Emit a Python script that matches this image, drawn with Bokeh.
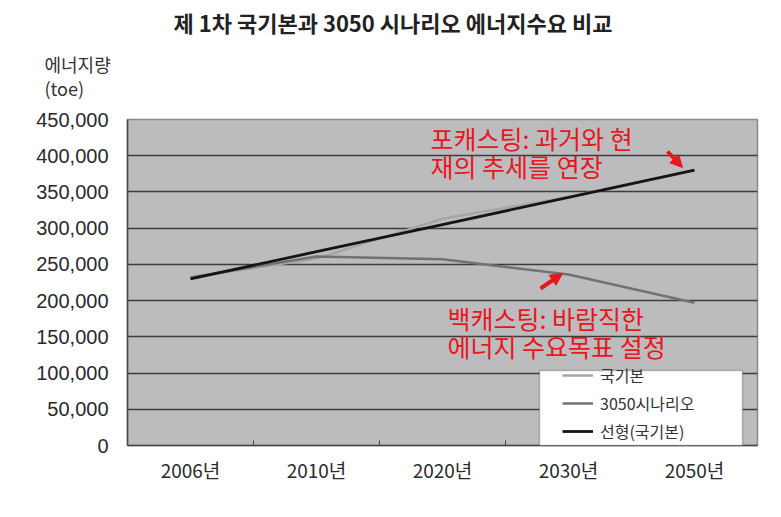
from bokeh.plotting import figure
from bokeh.models import (FactorRange, Range1d, LinearAxis, FixedTicker, SingleIntervalTicker,
                          NumeralTickFormatter, Label, Arrow, NormalHead, BoxAnnotation,
                          Legend, LegendItem, Title)
from bokeh.embed import file_html
from bokeh.resources import INLINE

# ---- data ----
categories = ["2006년", "2010년", "2020년", "2030년", "2050년"]
national_plan = [232000, 258000, 313000, 343000, 380000]      # 국기본
scenario_3050 = [232000, 261000, 257000, 236000, 197000]      # 3050시나리오
linear_trend = [230000, 267500, 305000, 342500, 380000]       # 선형(국기본)
series_names = ["국기본", "3050시나리오", "선형(국기본)"]
y_max = 450000
y_step = 50000

KR = "Noto Sans CJK KR"
RED = "#e8171d"
W, H = 781, 517

# frame geometry (page pixels) used only to place annotations
FL, FT, FR, FB = 127, 119, 757, 445
def sx(px):
    return (px - FL) / (FR - FL) * len(categories)
def sy(py):
    return (FB - py) / (FB - FT) * y_max

p = figure(width=W, height=H, x_range=FactorRange(*categories), y_range=Range1d(0, y_max),
           output_backend="svg", toolbar_location=None,
           min_border_left=FL, min_border_right=W - FR, min_border_top=FT, min_border_bottom=H - FB)
p.background_fill_color = "#bcbcbe"
p.border_fill_color = "white"
p.outline_line_color = "#8a8a8a"
p.outline_line_width = 1.5
p.xgrid.grid_line_color = None
p.ygrid.grid_line_color = "#3c3c3c"
p.ygrid.grid_line_width = 1.5

# titles (main title outermost, axis caption just above the frame)
p.title.text = "제 1차 국기본과 3050 시나리오 에너지수요 비교"
p.title.align = "left"
p.title.offset = 173 - FL
p.title.standoff = -7
p.title.text_font = KR
p.title.text_font_size = "22px"
p.title.text_font_style = "bold"
p.title.text_color = "#222222"
caption = Title(text="에너지량\n(toe)", align="left", offset=44 - FL, standoff=33,
                vertical_align="top",
                text_font=KR, text_font_size="18px", text_font_style="normal",
                text_color="#333333", text_line_height=0.93)
p.add_layout(caption, "above")

# y axis
ya = p.yaxis[0]
ya.ticker = SingleIntervalTicker(interval=y_step, num_minor_ticks=0)
ya.formatter = NumeralTickFormatter(format="0,0")
ya.major_tick_out = 0
ya.major_tick_in = 0
ya.minor_tick_line_color = None
ya.axis_line_color = "#4a4a4a"
ya.axis_line_width = 1.5
ya.major_label_text_font = "Liberation Sans"
ya.major_label_text_font_size = "20px"
ya.major_label_text_color = "#2a2a2a"
ya.major_label_standoff = 19

# x axis (categorical labels)
xa = p.xaxis[0]
xa.major_tick_out = 0
xa.major_tick_in = 0
xa.axis_line_color = None
xa.major_label_text_font = KR
xa.major_label_text_font_size = "19px"
xa.major_label_text_color = "#2a2a2a"
xa.major_label_standoff = 10

# boundary ticks between categories (synthetic coordinates of the factor range)
bounds = list(range(1, len(categories)))
tick_axis = LinearAxis(ticker=FixedTicker(ticks=bounds),
                       major_label_overrides={b: "" for b in bounds},
                       major_tick_in=5, major_tick_out=0, major_tick_line_color="#444444",
                       minor_tick_line_color=None, major_label_text_font_size="1px",
                       major_label_standoff=0, axis_line_color="#444444", axis_line_width=1.5)
p.below = [tick_axis] + list(p.below)

# lines
r1 = p.line(categories, national_plan, line_color="#a6a6a6", line_width=2.5)
r2 = p.line(categories, scenario_3050, line_color="#727272", line_width=2.5)
r3 = p.line(categories, linear_trend, line_color="#151515", line_width=2.8)

# red annotations
for txt, lx, ly in [("포캐스팅: 과거와 현", 430, 137), ("재의 추세를 연장", 430, 165),
                    ("백캐스팅: 바람직한", 447, 317), ("에너지 수요목표 설정", 447, 345)]:
    p.add_layout(Label(x=sx(lx), y=sy(ly), text=txt, text_font=KR, text_font_size="25px",
                       text_color=RED, text_align="left", text_baseline="middle"))

for (x0, y0, x1, y1) in [(667, 151, 682, 167), (540, 288, 562, 273)]:
    p.add_layout(Arrow(end=NormalHead(size=12, fill_color=RED, line_color=RED),
                       x_start=sx(x0), y_start=sy(y0), x_end=sx(x1), y_end=sy(y1),
                       line_color=RED, line_width=4))

# legend
p.add_layout(BoxAnnotation(left=sx(539), right=sx(742), top=sy(370), bottom=sy(445),
                           fill_color="white", fill_alpha=1, line_color="#333333", line_width=1.5))
legend = Legend(items=[LegendItem(label=series_names[0], renderers=[r1]),
                       LegendItem(label=series_names[1], renderers=[r2]),
                       LegendItem(label=series_names[2], renderers=[r3])],
                location=(435, 2), padding=0, margin=0, spacing=4,
                glyph_height=20, glyph_width=31, label_height=20, label_standoff=7,
                label_text_font=KR, label_text_font_size="16px", label_text_color="#333333",
                background_fill_alpha=0, border_line_color=None)
p.add_layout(legend, "center")

open("out.html", "w").write(file_html(p, INLINE))
